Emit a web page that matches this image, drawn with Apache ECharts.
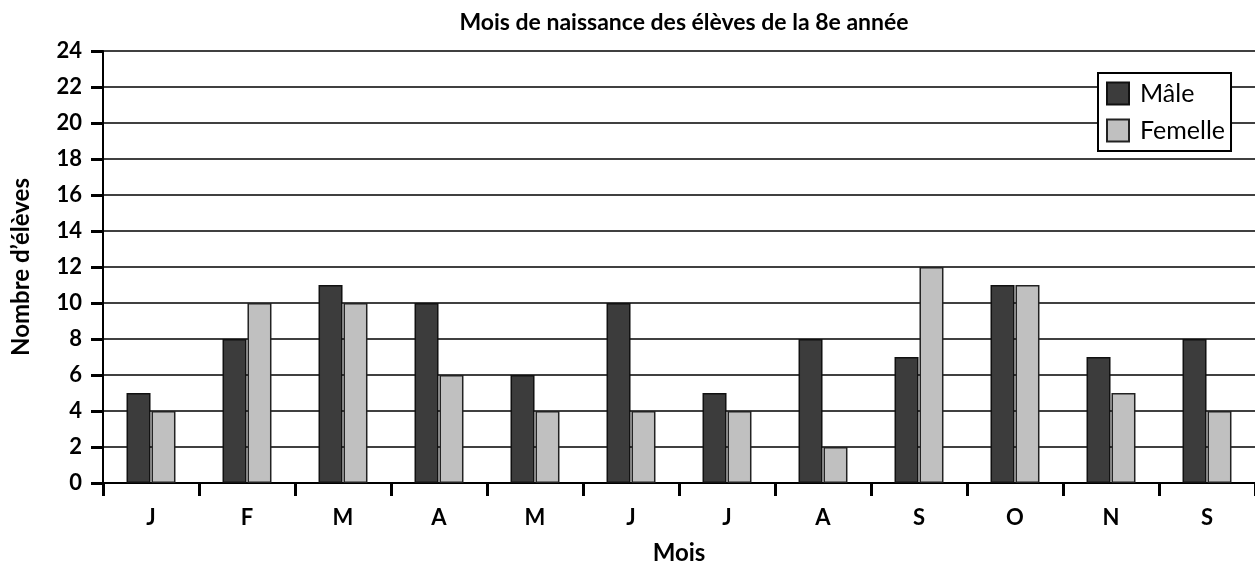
<!DOCTYPE html>
<html>
<head>
<meta charset="utf-8">
<script src="https://cdn.jsdelivr.net/npm/echarts@6/dist/echarts.min.js"></script>
<style>
  html, body { margin: 0; padding: 0; background: #fff; }
  #chart { width: 1255px; height: 568px; }
</style>
</head>
<body>
<div id="chart"></div>
<script>
// Birth months of grade 8 students, by sex
const months = ['J', 'F', 'M', 'A', 'M', 'J', 'J', 'A', 'S', 'O', 'N', 'S'];
const male = [5, 8, 11, 10, 6, 10, 5, 8, 7, 11, 7, 8];
const female = [4, 10, 10, 6, 4, 4, 4, 2, 12, 11, 5, 4];
const seriesNames = ['Mâle', 'Femelle'];

const FONT = 'Lato, "Open Sans", sans-serif';

const chart = echarts.init(document.getElementById('chart'), null, { renderer: 'canvas' });

chart.setOption({
  animation: false,
  backgroundColor: '#ffffff',
  title: {
    text: 'Mois de naissance des élèves de la 8e année',
    left: 679,
    textAlign: 'center',
    top: 6,
    textStyle: { fontFamily: FONT, fontSize: 23, fontWeight: 'bold', color: '#000' }
  },
  legend: {
    orient: 'vertical',
    left: 1098,
    top: 73,
    data: seriesNames,
    itemWidth: 22,
    itemHeight: 22,
    itemGap: 12,
    padding: [8, 6, 8, 8],
    borderColor: '#000',
    borderWidth: 2,
    backgroundColor: '#fff',
    icon: 'rect',
    textStyle: { fontFamily: FONT, fontSize: 25, color: '#000', padding: [0, 0, 0, 6] }
  },
  grid: { left: 103, right: 0, top: 51, bottom: 85, outerBoundsMode: 'none', containLabel: false },
  xAxis: {
    type: 'category',
    data: months,
    name: 'Mois',
    nameLocation: 'middle',
    nameGap: 58,
    nameTextStyle: { fontFamily: FONT, fontSize: 24, fontWeight: 'bold', color: '#000' },
    axisLine: { lineStyle: { color: '#000', width: 2 } },
    axisTick: { show: true, alignWithLabel: false, length: 13, lineStyle: { color: '#000', width: 3 } },
    axisLabel: { margin: 24, fontFamily: FONT, fontSize: 22, fontWeight: 'bold', color: '#000' },
    splitLine: { show: false }
  },
  yAxis: {
    type: 'value',
    min: 0,
    max: 24,
    interval: 2,
    name: 'Nombre d’élèves',
    nameLocation: 'middle',
    nameGap: 70,
    nameRotate: 90,
    nameTextStyle: { fontFamily: FONT, fontSize: 24, fontWeight: 'bold', color: '#000' },
    axisLine: { show: true, lineStyle: { color: '#000', width: 2 } },
    axisTick: { show: true, length: 12, lineStyle: { color: '#000', width: 3 } },
    axisLabel: { margin: 21, fontFamily: FONT, fontSize: 22, fontWeight: 'bold', color: '#000' },
    splitLine: { show: true, lineStyle: { color: '#000', width: 1.5 } }
  },
  series: [
    {
      name: seriesNames[0],
      type: 'bar',
      data: male,
      barWidth: 24,
      barGap: '4%',
      itemStyle: { color: '#3c3c3c', borderColor: '#111', borderWidth: 1.5 }
    },
    {
      name: seriesNames[1],
      type: 'bar',
      data: female,
      barWidth: 24,
      barGap: '4%',
      itemStyle: { color: '#c0c0c0', borderColor: '#222', borderWidth: 1.5 }
    }
  ]
});
</script>
</body>
</html>
